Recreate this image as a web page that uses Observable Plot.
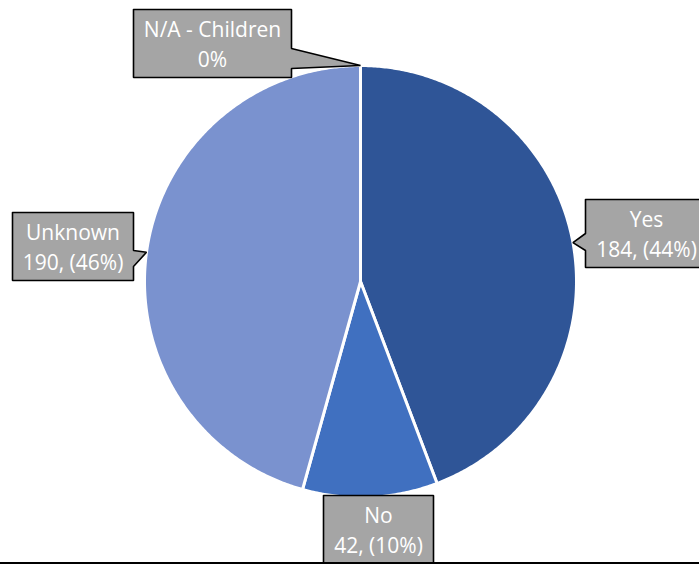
<!DOCTYPE html>
<html><head><meta charset="utf-8">
<script src="https://cdn.jsdelivr.net/npm/d3@7"></script>
<script src="https://cdn.jsdelivr.net/npm/@observablehq/plot@0.6"></script>
<style>html,body{margin:0;padding:0;background:#fff;overflow:hidden}</style>
</head><body><div id="chart"></div>
<script>
// ---- data ----
const categories = ["N/A - Children", "Yes", "No", "Unknown"];
const counts = [0, 184, 42, 190];

// ---- styling / layout ----
const colors = ["#2F5597", "#2F5597", "#4070C0", "#7A92CF"];
const W = 699, H = 564, cx = 360, cy = 281, R = 216;
// callout boxes: [x0, y0, x1, y1], side of notch, notch base range
const callouts = {
  "N/A - Children": {box: [133, 9, 291, 77], side: "right", base: [48, 68]},
  "Yes":            {box: [585, 199, 709, 267], side: "left", base: [233, 250]},
  "No":             {box: [323, 495, 433, 570], side: null, base: null},
  "Unknown":        {box: [12, 212, 133, 280], side: "right", base: [250, 266]}
};

const total = d3.sum(counts);
const arcs = d3.pie().sort(null).value(d => d)(counts);
const pt = (a, r) => [cx + r * Math.sin(a), cy - r * Math.cos(a)];

// slice polygons
const sliceRows = [];
arcs.forEach((a, i) => {
  const cat = categories[i];
  const n = Math.max(2, Math.ceil((a.endAngle - a.startAngle) / (Math.PI / 360)) + 1);
  sliceRows.push({cat, x: cx, y: cy});
  for (let k = 0; k < n; k++) {
    const t = a.startAngle + (a.endAngle - a.startAngle) * k / (n - 1);
    const [x, y] = pt(t, R);
    sliceRows.push({cat, x, y});
  }
  sliceRows.push({cat, x: cx, y: cy});
});

// callout polygons and labels
const boxRows = [];
const labelRows = [];
arcs.forEach((a, i) => {
  const cat = categories[i];
  const c = callouts[cat];
  const [x0, y0, x1, y1] = c.box;
  const mid = (a.startAngle + a.endAngle) / 2;
  const [tx, ty] = pt(mid, R);
  const poly = [[x0, y0], [x1, y0]];
  if (c.side === "right") poly.push([x1, c.base[0]], [tx, ty], [x1, c.base[1]]);
  poly.push([x1, y1], [x0, y1]);
  if (c.side === "left") poly.push([x0, c.base[1]], [tx, ty], [x0, c.base[0]]);
  poly.push([x0, y0]);
  poly.forEach(([x, y]) => boxRows.push({cat, x, y}));
  const pct = Math.round(counts[i] / total * 100);
  const valueText = counts[i] === 0 ? `${pct}%` : `${counts[i]}, (${pct}%)`;
  labelRows.push({cat, x: (x0 + Math.min(x1, W + 10)) / 2, y: cat === "No" ? 528 : (y0 + y1) / 2 - 1, text: `${cat}\n${valueText}`});
});
labelRows.find(d => d.cat === "Yes").x = 646;

const chart = Plot.plot({
  width: W, height: H,
  margin: 0,
  x: {domain: [0, W], range: [0, W], axis: null},
  y: {domain: [0, H], range: [0, H], axis: null},
  color: {domain: categories, range: colors},
  marks: [
    Plot.line(sliceRows, {x: "x", y: "y", z: "cat", fill: "cat", stroke: "white", strokeWidth: 3, strokeLinejoin: "round", curve: "linear"}),
    Plot.line(boxRows, {x: "x", y: "y", z: "cat", fill: "#A5A5A5", stroke: "black", strokeWidth: 1.6, strokeLinejoin: "miter", curve: "linear"}),
    Plot.text(labelRows, {x: "x", y: "y", text: "text", fill: "white", fontSize: 21, fontFamily: "Open Sans", lineHeight: 1.4, lineAnchor: "middle", textAnchor: "middle"}),
    Plot.ruleY([562.5], {stroke: "black", strokeWidth: 2})
  ]
});
document.getElementById("chart").append(chart);
</script>
</body></html>
